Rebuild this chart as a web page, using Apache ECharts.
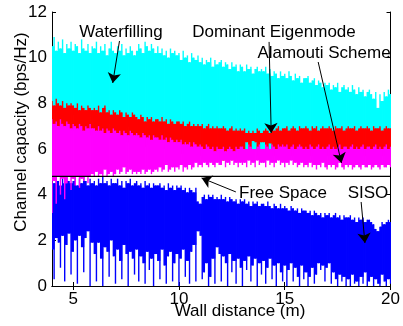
<!DOCTYPE html>
<html>
<head>
<meta charset="utf-8">
<script src="https://cdn.jsdelivr.net/npm/echarts@6/dist/echarts.min.js"></script>
<style>html,body{margin:0;padding:0;background:#fff}#c{width:403px;height:326px}</style>
</head>
<body>
<div id="c"></div>
<script>
// Sampling grid along wall distance (m)
const X_MIN = 4, X_MAX = 20, STEP = 0.1;
const xTicks = [5, 10, 15, 20];
const FREE_SPACE = 4.8;

// Waterfilling (cyan) band: upper / lower envelope per sample
const cyanHi = [
10.5,10.9,10.3,10.7,10.4,10.8,10.2,10.6,10.4,10.7,
10.3,10.6,10.5,10.2,10.8,10.4,10.3,10.6,10.2,10.5,
10.4,10.7,10.2,10.5,10.3,10.6,10.1,10.4,10.7,10.3,
10.2,10.5,10.3,10.6,10.1,10.4,10.2,10.5,10.3,10.1,
10.3,10.6,10.4,10.2,10.7,10.5,10.3,10.6,10.4,10.2,
10.5,10.2,10.4,10.1,10.3,10.0,10.4,10.2,10.3,10.1,
10.2,9.9,10.3,10.0,10.1,9.8,10.2,10.0,9.9,10.1,
9.8,10.0,9.7,9.9,9.8,10.0,9.6,9.9,9.7,9.8,
9.9,9.6,9.8,9.7,9.5,9.8,9.6,9.7,9.4,9.7,
9.6,9.4,9.7,9.5,9.6,9.3,9.5,9.6,9.4,9.5,
9.4,9.6,9.3,9.5,9.2,9.4,9.3,9.1,9.4,9.2,
9.3,9.1,9.4,9.2,9.0,9.3,9.1,9.2,8.9,9.1,
9.1,9.2,8.9,9.0,9.1,8.8,9.0,8.9,8.7,8.9,
8.8,8.9,8.6,8.8,8.7,8.9,8.5,8.7,8.8,8.6,
8.7,8.5,8.8,8.6,8.4,8.7,8.5,8.6,8.3,8.5,
8.6,8.4,8.2,8.5,7.8,8.4,8.1,8.5,8.3,8.6,
8.4];
const cyanLo = [
7.7,7.6,7.7,7.5,7.6,7.6,7.5,7.6,7.4,7.5,
7.5,7.4,7.5,7.4,7.3,7.4,7.4,7.3,7.4,7.3,
7.3,7.2,7.3,7.2,7.2,7.1,7.2,7.1,7.2,7.1,
7.1,7.0,7.1,7.0,7.0,6.9,7.0,6.9,7.0,6.9,
6.9,6.8,6.9,6.8,6.8,6.8,6.7,6.8,6.7,6.8,
6.7,6.7,6.6,6.7,6.6,6.6,6.6,6.5,6.6,6.5,
6.5,6.5,6.4,6.5,6.4,6.4,6.4,6.3,6.4,6.3,
6.3,6.3,6.2,6.3,6.2,6.2,6.2,6.1,6.2,6.1,
6.1,6.1,6.0,6.1,6.0,6.0,6.0,6.0,6.0,6.0,
6.0,6.0,5.9,6.0,5.9,5.9,5.9,5.9,5.9,5.9,
5.9,5.9,5.9,5.9,5.9,5.9,5.9,5.9,5.9,5.9,
5.9,5.9,5.9,5.9,5.9,5.9,5.9,5.9,5.9,5.9,
5.9,5.9,5.9,5.9,5.9,5.9,5.9,5.9,5.9,5.9,
5.9,5.9,5.9,5.9,5.9,5.9,5.9,5.9,5.9,5.9,
5.9,5.9,5.9,5.9,5.9,5.9,5.9,5.9,5.9,5.9,
5.9,5.9,5.9,5.9,5.9,5.9,5.9,5.9,5.9,5.9,
5.9];

// Dominant Eigenmode (red) band
const redHi = [
8.1,7.9,8.2,8.0,7.9,8.1,7.8,8.0,7.9,8.0,
7.9,7.8,8.0,7.7,7.9,7.8,7.7,7.9,7.8,7.7,
7.8,7.7,7.9,7.6,7.8,7.9,7.6,7.7,7.5,7.7,
7.6,7.5,7.7,7.6,7.4,7.6,7.5,7.4,7.6,7.5,
7.4,7.3,7.5,7.4,7.2,7.4,7.3,7.4,7.2,7.3,
7.3,7.2,7.4,7.2,7.3,7.1,7.3,7.2,7.1,7.2,
7.2,7.1,7.2,7.0,7.1,7.2,7.0,7.1,7.0,7.1,
7.0,7.1,6.9,7.0,7.1,6.9,7.0,6.9,7.0,6.9,
6.9,7.0,6.9,6.8,6.9,7.0,6.8,6.9,6.8,6.9,
6.8,6.9,6.7,6.8,6.7,6.8,6.7,6.9,6.8,6.7,
6.8,6.9,6.8,6.7,6.9,6.8,6.9,7.0,6.8,6.9,
6.9,7.0,6.8,6.9,7.0,6.9,6.8,7.0,6.9,6.9,
7.0,6.9,6.8,7.0,6.9,7.0,6.8,6.9,7.0,6.9,
6.9,7.0,6.9,6.8,7.0,6.9,6.9,7.0,6.8,6.9,
7.0,6.9,6.9,7.0,6.8,6.9,7.0,6.9,6.9,7.0,
6.9,6.8,7.0,6.9,6.9,7.0,6.8,6.9,7.0,6.9,
6.9];
const redLo = [
7.0,6.9,7.0,6.9,6.9,6.8,6.9,6.8,6.8,6.8,
6.8,6.7,6.8,6.7,6.7,6.7,6.6,6.7,6.6,6.6,
6.6,6.6,6.5,6.6,6.5,6.5,6.5,6.4,6.5,6.4,
6.4,6.4,6.4,6.3,6.4,6.3,6.3,6.3,6.2,6.3,
6.3,6.2,6.2,6.2,6.1,6.2,6.1,6.1,6.1,6.0,
6.1,6.0,6.0,6.0,5.9,6.0,5.9,5.9,5.9,5.8,
5.9,5.8,5.8,5.8,5.7,5.8,5.7,5.7,5.7,5.6,
5.7,5.6,5.6,5.6,5.6,5.5,5.6,5.5,5.5,5.5,
5.5,5.5,5.5,5.5,5.6,5.5,5.6,5.6,5.6,5.6,
5.6,5.7,6.3,5.7,5.7,6.35,6.3,5.7,5.8,6.3,
6.3,5.7,5.8,6.25,5.7,5.7,5.7,5.7,5.7,5.7,
5.7,5.7,5.7,5.7,5.7,5.7,5.7,5.7,5.7,5.7,
5.7,5.7,5.7,5.7,5.7,5.7,5.7,5.7,5.7,5.7,
5.7,5.7,5.7,5.7,5.7,5.7,5.7,5.7,5.7,5.7,
5.7,5.7,5.7,5.7,5.7,5.7,5.7,5.7,5.7,5.7,
5.7,5.7,5.7,5.7,5.7,5.7,5.7,5.7,5.7,5.7,
5.7];

// Alamouti Scheme (magenta) band
const magentaHi = [
7.3,7.1,7.2,7.0,7.3,7.1,7.0,7.2,7.1,6.9,
7.1,7.0,6.9,7.1,7.0,6.8,7.0,6.9,7.1,6.9,
6.9,6.8,7.0,6.8,6.9,6.7,6.9,6.8,6.7,6.9,
6.8,6.7,6.8,6.6,6.8,6.7,6.6,6.8,6.7,6.6,
6.7,6.6,6.5,6.7,6.6,6.5,6.6,6.4,6.6,6.5,
6.5,6.4,6.6,6.4,6.5,6.3,6.5,6.4,6.3,6.4,
6.3,6.4,6.2,6.3,6.2,6.3,6.1,6.3,6.2,6.1,
6.2,6.1,6.0,6.2,6.1,6.0,6.1,5.9,6.1,6.0,
6.0,6.1,5.9,6.0,6.1,6.0,5.9,6.1,6.0,6.1,
6.1,6.0,6.0,6.2,6.1,6.0,6.0,6.1,6.2,6.0,
6.0,6.2,6.1,6.0,6.2,6.1,6.0,6.2,6.1,6.2,
6.1,6.2,6.0,6.1,6.2,6.0,6.1,6.2,6.1,6.0,
6.1,6.0,6.2,6.1,6.0,6.1,6.2,6.0,6.1,6.0,
6.1,6.2,6.0,6.1,6.0,6.1,6.2,6.0,6.1,6.1,
6.0,6.1,6.2,6.0,6.1,6.0,6.1,6.2,6.0,6.1,
6.1,6.0,6.1,6.2,6.0,6.1,6.0,6.1,6.2,6.0,
6.1];
const magentaLo = [
3.2,4.6,3.6,4.8,4.0,4.7,3.8,4.5,4.8,4.2,
4.7,4.4,4.8,4.3,4.7,4.6,4.8,4.5,4.8,4.9,
4.8,5.0,4.8,4.9,4.8,5.1,4.8,4.9,5.0,4.8,
4.9,5.1,4.9,5.0,5.2,4.9,5.0,5.1,4.9,5.0,
4.9,5.0,4.9,5.1,4.9,5.0,5.1,4.9,5.0,5.1,
5.0,5.2,5.0,5.1,5.3,5.0,5.1,5.2,5.0,5.2,
5.1,5.3,5.0,5.2,5.1,5.3,5.1,5.2,5.4,5.2,
5.3,5.2,5.4,5.3,5.2,5.4,5.3,5.2,5.4,5.3,
5.3,5.5,5.2,5.4,5.3,5.5,5.3,5.4,5.2,5.4,
5.3,5.4,5.2,5.5,5.3,5.4,5.2,5.5,5.3,5.4,
5.4,5.2,5.5,5.3,5.4,5.2,5.4,5.5,5.3,5.4,
5.2,5.4,5.3,5.5,5.3,5.4,5.2,5.3,5.4,5.2,
5.3,5.2,5.4,5.2,5.3,5.1,5.3,5.2,5.4,5.2,
5.1,5.3,5.2,5.3,5.1,5.2,5.4,5.2,5.1,5.3,
5.2,5.3,5.1,5.2,5.3,5.2,5.1,5.3,5.2,5.2,
5.3,5.1,5.2,5.3,5.2,5.1,5.3,5.2,5.2,5.3,
5.2];

// SISO (blue) band
const blueHi = [
4.7,4.5,4.8,4.6,4.4,4.7,4.5,4.8,4.6,4.5,
4.6,4.8,4.4,4.7,4.5,4.8,4.6,4.4,4.7,4.5,
4.6,4.4,4.7,4.5,4.8,4.5,4.6,4.4,4.7,4.5,
4.5,4.7,4.4,4.6,4.3,4.6,4.5,4.7,4.4,4.5,
4.6,4.4,4.5,4.3,4.6,4.4,4.5,4.3,4.5,4.4,
4.4,4.5,4.3,4.4,4.2,4.5,4.3,4.4,4.2,4.4,
4.3,4.4,4.2,4.3,4.1,4.3,4.2,4.1,4.3,3.7,
3.6,3.9,4.0,3.8,4.0,3.9,4.0,3.8,3.9,3.8,
4.0,3.8,3.9,3.7,3.9,3.8,3.7,3.8,3.6,3.8,
3.7,3.8,3.6,3.7,3.5,3.7,3.6,3.7,3.5,3.6,
3.6,3.5,3.7,3.5,3.4,3.6,3.5,3.4,3.6,3.4,
3.5,3.4,3.3,3.5,3.4,3.3,3.4,3.2,3.4,3.3,
3.3,3.2,3.3,3.1,3.3,3.2,3.1,3.2,3.0,3.2,
3.1,3.2,3.0,3.1,3.2,3.0,3.1,2.9,3.1,3.0,
3.0,3.1,2.9,3.0,2.8,3.0,2.9,3.0,2.8,2.9,
2.9,2.8,2.7,2.5,2.4,2.6,2.8,2.7,2.8,2.9,
2.8];
const blueLo = [
1.6,0.3,2.1,1.9,0.8,2.2,0.2,1.8,2.3,0.5,
1.5,2.0,0.1,2.2,1.7,0.6,2.1,2.4,0.0,1.9,
1.4,0.2,1.9,1.2,0.0,1.7,1.5,0.4,2.0,1.3,
0.1,1.6,1.1,0.3,1.8,1.4,0.0,1.5,1.2,0.5,
1.6,0.2,1.3,1.0,0.1,1.5,0.7,1.2,0.0,1.4,
1.1,0.3,1.6,0.9,0.1,1.3,1.5,0.2,1.0,1.4,
0.0,1.2,1.6,0.4,1.1,0.1,1.5,1.8,0.2,2.4,
2.2,0.3,0.6,1.0,0.0,0.4,1.2,0.1,1.7,1.4,
0.2,1.3,1.0,0.0,1.4,0.6,1.1,0.1,1.2,0.8,
0.0,1.1,0.7,1.3,0.2,0.9,1.2,0.0,1.0,0.5,
1.1,0.1,0.8,1.2,0.3,0.9,0.0,1.0,0.6,0.2,
0.9,0.0,0.7,1.0,0.2,0.8,0.4,0.0,0.9,0.3,
0.6,0.0,0.4,0.8,0.1,0.5,1.0,0.7,0.9,0.2,
0.8,1.0,0.1,0.6,0.3,0.0,0.5,0.2,0.4,0.0,
0.3,0.0,0.5,0.1,0.2,0.0,0.4,0.1,0.6,0.0,
0.2,0.4,0.0,0.3,0.1,0.0,0.5,0.2,0.0,0.3,
0.1];

// Annotation arrows in data units: [fromX, fromY, toX, toY]
const arrows = [
  [7.19, 10.73, 6.87, 8.89],   // Waterfilling
  [14.26, 10.69, 14.36, 6.70], // Dominant Eigenmode
  [16.58, 9.81, 17.68, 5.39],  // Alamouti Scheme
  [12.69, 4.12, 11.07, 4.73],  // Free Space
  [18.61, 3.68, 18.79, 1.88]   // SISO
];

const FONT = '"Liberation Sans", Arial, Helvetica, sans-serif';
const xs = cyanHi.map((_, i) => +(X_MIN + i * STEP).toFixed(2));

// Each sample: a thin spike from lo to hi, plus a solid body joining it to the next sample
function band(lo, hi, color) {
  return {
    type: 'custom',
    clip: true,
    silent: true,
    encode: { x: 0, y: [1, 2] },
    data: xs.map((x, i) => [x, lo[i], hi[i]]),
    renderItem: function (params, api) {
      const i = params.dataIndex;
      const children = [];
      const p = api.coord([xs[i], hi[i]]);
      const q = api.coord([xs[i], lo[i]]);
      children.push({ type: 'rect', shape: { x: p[0] - 0.7, y: p[1], width: 1.4, height: q[1] - p[1] }, style: { fill: color } });
      if (i < xs.length - 1) {
        const top = Math.min(hi[i], hi[i + 1]);
        const bot = Math.max(lo[i], lo[i + 1]);
        if (top > bot) {
          const a = api.coord([xs[i], top]);
          const b = api.coord([xs[i + 1], bot]);
          children.push({ type: 'rect', shape: { x: a[0], y: a[1], width: b[0] - a[0] + 0.5, height: b[1] - a[1] }, style: { fill: color } });
        }
      }
      return { type: 'group', children: children };
    }
  };
}

const chart = echarts.init(document.getElementById('c'), null, { renderer: 'canvas' });
const axisCommon = {
  axisLine: { show: true, lineStyle: { color: '#000', width: 1 } },
  axisTick: { show: true, inside: true, length: 4, lineStyle: { color: '#000' } },
  splitLine: { show: false }
};
chart.setOption({
  animation: false,
  grid: { left: 52, right: 4, top: 12, bottom: 40 },
  xAxis: [
    Object.assign({}, axisCommon, {
      type: 'value', min: X_MIN, max: X_MAX, position: 'bottom',
      axisTick: Object.assign({}, axisCommon.axisTick, { customValues: xTicks }),
      axisLabel: { customValues: xTicks, color: '#000', fontFamily: FONT, fontSize: 17, margin: 5 }
    }),
    Object.assign({}, axisCommon, {
      type: 'value', min: X_MIN, max: X_MAX, position: 'top',
      axisTick: Object.assign({}, axisCommon.axisTick, { customValues: xTicks }),
      axisLabel: { show: false }
    })
  ],
  yAxis: [
    Object.assign({}, axisCommon, {
      type: 'value', min: 0, max: 12, interval: 2, position: 'left',
      axisLabel: { color: '#000', fontFamily: FONT, fontSize: 17, margin: 5 }
    }),
    Object.assign({}, axisCommon, {
      type: 'value', min: 0, max: 12, interval: 2, position: 'right',
      axisLabel: { show: false }
    })
  ],
  series: [
    band(cyanLo, cyanHi, '#00FFFF'),
    band(redLo, redHi, '#FF0000'),
    band(blueLo, blueHi, '#0000FF'),
    band(magentaLo, magentaHi, '#FF00FF'),
    {
      type: 'line',
      data: [[X_MIN, FREE_SPACE], [X_MAX, FREE_SPACE]],
      showSymbol: false,
      silent: true,
      lineStyle: { color: '#000', width: 1.3 },
      z: 5,
      markLine: {
        silent: true,
        symbol: ['none', 'arrow'],
        symbolSize: 10,
        label: { show: false },
        lineStyle: { color: '#000', width: 1, type: 'solid' },
        itemStyle: { color: '#000' },
        data: arrows.map(a => [{ coord: [a[0], a[1]] }, { coord: [a[2], a[3]] }])
      }
    }
  ],
  graphic: [
    { type: 'text', x: 121, y: 32, style: { text: 'Waterfilling', font: '17px ' + FONT, fill: '#000', align: 'center', verticalAlign: 'middle' }, z: 100 },
    { type: 'text', x: 274, y: 32, style: { text: 'Dominant Eigenmode', font: '17px ' + FONT, fill: '#000', align: 'center', verticalAlign: 'middle' }, z: 100 },
    { type: 'text', x: 324, y: 53, style: { text: 'Alamouti Scheme', font: '17px ' + FONT, fill: '#000', align: 'center', verticalAlign: 'middle' }, z: 100 },
    { type: 'text', x: 283, y: 193, style: { text: 'Free Space', font: '17px ' + FONT, fill: '#000', align: 'center', verticalAlign: 'middle' }, z: 100 },
    { type: 'text', x: 368, y: 193, style: { text: 'SISO', font: '17px ' + FONT, fill: '#000', align: 'center', verticalAlign: 'middle' }, z: 100 },
    { type: 'text', x: 240, y: 311, style: { text: 'Wall distance (m)', font: '17px ' + FONT, fill: '#000', align: 'center', verticalAlign: 'middle' }, z: 100 },
    { type: 'text', x: 21, y: 132, rotation: Math.PI / 2, style: { text: 'Channel capacity (bps/Hz)', font: '17px ' + FONT, fill: '#000', align: 'center', verticalAlign: 'middle' }, z: 100 }
  ]
});
</script>
</body>
</html>
